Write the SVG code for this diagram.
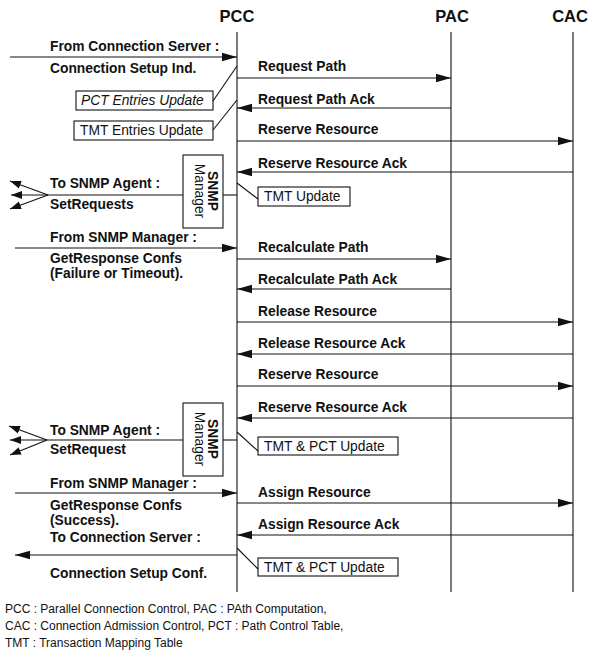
<svg xmlns="http://www.w3.org/2000/svg" width="589" height="655" viewBox="0 0 589 655">
<style>
text{font-family:"Liberation Sans",Arial,sans-serif;fill:#111}
.h{font-size:16.5px;font-weight:bold}
.l{font-size:13.8px;font-weight:bold}
.b{font-size:13.8px}
.f{font-size:12px}
.ln{stroke:#111;stroke-width:1.1;fill:none}
.bx{fill:#fff;stroke:#111;stroke-width:1.1}
.m{stroke:#111;stroke-width:1.1;fill:none;marker-end:url(#ah)}
.s{stroke:#111;stroke-width:1.1;fill:none;marker-end:url(#sa)}
</style>
<defs>
<marker id="ah" markerUnits="userSpaceOnUse" markerWidth="16" markerHeight="10" viewBox="0 0 16 10" refX="15" refY="5" orient="auto"><path d="M0,0.8 L15,5 L0,9.2 z" fill="#111"/></marker>
<marker id="sa" markerUnits="userSpaceOnUse" markerWidth="12" markerHeight="9" viewBox="0 0 12 9" refX="11" refY="4.5" orient="auto"><path d="M0,0.5 L11,4.5 L0,8.5 z" fill="#111"/></marker>
</defs>

<g id="PCC"><text class="h" x="237" y="22" text-anchor="middle">PCC</text><line class="ln" x1="237" y1="32" x2="237" y2="592"/></g>
<g id="PAC"><text class="h" x="452" y="22" text-anchor="middle">PAC</text><line class="ln" x1="451" y1="32" x2="451" y2="592"/></g>
<g id="CAC"><text class="h" x="570" y="22" text-anchor="middle">CAC</text><line class="ln" x1="573" y1="32" x2="573" y2="592"/></g>

<g id="pct-entries"><rect class="bx" x="76" y="91" width="137" height="19"/><text class="b" x="81" y="105" font-style="italic">PCT Entries Update</text></g>
<g id="tmt-entries"><rect class="bx" x="74" y="121" width="139" height="19"/><text class="b" x="80" y="135">TMT Entries Update</text></g>
<g id="snmp-mgr-1"><rect class="bx" x="183" y="155" width="40" height="73"/><text class="l" transform="translate(208,191) rotate(90)" text-anchor="middle">SNMP</text><text class="b" transform="translate(195,191) rotate(90)" text-anchor="middle">Manager</text></g>
<g id="tmt-update"><rect class="bx" x="258" y="187" width="92" height="19"/><text class="b" x="264" y="201">TMT Update</text></g>
<g id="snmp-mgr-2"><rect class="bx" x="183" y="403" width="40" height="73"/><text class="l" transform="translate(208,439) rotate(90)" text-anchor="middle">SNMP</text><text class="b" transform="translate(195,439) rotate(90)" text-anchor="middle">Manager</text></g>
<g id="tmt-pct-update-1"><rect class="bx" x="258" y="437" width="140" height="18"/><text class="b" x="264" y="451">TMT &amp; PCT Update</text></g>
<g id="tmt-pct-update-2"><rect class="bx" x="258" y="558" width="140" height="18"/><text class="b" x="264" y="572">TMT &amp; PCT Update</text></g>

<g id="connectors">
<line class="m" x1="10" y1="57" x2="237" y2="57"/>
<line class="m" x1="237" y1="78" x2="451" y2="78"/>
<line class="m" x1="451" y1="108" x2="237" y2="108"/>
<line class="m" x1="237" y1="141" x2="573" y2="141"/>
<line class="m" x1="573" y1="172" x2="237" y2="172"/>
<line class="ln" x1="213" y1="101" x2="237" y2="66"/>
<line class="ln" x1="213" y1="130" x2="237" y2="100"/>
<line class="ln" x1="48" y1="195" x2="183" y2="195"/>
<line class="ln" x1="223" y1="195" x2="237" y2="195"/>
<line class="s" x1="48" y1="195" x2="10" y2="181"/>
<line class="s" x1="48" y1="195" x2="11" y2="195"/>
<line class="s" x1="48" y1="195" x2="10" y2="209"/>
<line class="ln" x1="237" y1="183" x2="258" y2="199"/>
<line class="m" x1="15" y1="248" x2="237" y2="248"/>
<line class="m" x1="237" y1="259" x2="451" y2="259"/>
<line class="m" x1="451" y1="289" x2="237" y2="289"/>
<line class="m" x1="237" y1="322" x2="573" y2="322"/>
<line class="m" x1="573" y1="354" x2="237" y2="354"/>
<line class="m" x1="237" y1="386" x2="573" y2="386"/>
<line class="m" x1="573" y1="418" x2="237" y2="418"/>
<line class="ln" x1="47" y1="440" x2="183" y2="440"/>
<line class="ln" x1="223" y1="440" x2="237" y2="440"/>
<line class="s" x1="47" y1="440" x2="9" y2="426"/>
<line class="s" x1="47" y1="440" x2="10" y2="440"/>
<line class="s" x1="47" y1="440" x2="10" y2="455"/>
<line class="ln" x1="237" y1="432" x2="258" y2="451"/>
<line class="m" x1="15" y1="493" x2="237" y2="493"/>
<line class="m" x1="237" y1="503" x2="573" y2="503"/>
<line class="m" x1="573" y1="535" x2="237" y2="535"/>
<line class="m" x1="237" y1="555" x2="15" y2="555"/>
<line class="ln" x1="237" y1="548" x2="258" y2="569"/>
</g>

<g id="labels">
<text class="l" x="50" y="51">From Connection Server :</text>
<text class="l" x="50" y="73">Connection Setup Ind.</text>
<text class="l" x="258" y="71">Request Path</text>
<text class="l" x="258" y="104">Request Path Ack</text>
<text class="l" x="258" y="134">Reserve Resource</text>
<text class="l" x="258" y="168">Reserve Resource Ack</text>
<text class="l" x="50" y="188">To SNMP Agent :</text>
<text class="l" x="50" y="209">SetRequests</text>
<text class="l" x="50" y="242">From SNMP Manager :</text>
<text class="l" x="50" y="263">GetResponse Confs</text>
<text class="l" x="50" y="278">(Failure or Timeout).</text>
<text class="l" x="258" y="252">Recalculate Path</text>
<text class="l" x="258" y="284">Recalculate Path Ack</text>
<text class="l" x="258" y="316">Release Resource</text>
<text class="l" x="258" y="348">Release Resource Ack</text>
<text class="l" x="258" y="379">Reserve Resource</text>
<text class="l" x="258" y="412">Reserve Resource Ack</text>
<text class="l" x="50" y="435">To SNMP Agent :</text>
<text class="l" x="50" y="454">SetRequest</text>
<text class="l" x="50" y="488">From SNMP Manager :</text>
<text class="l" x="50" y="510">GetResponse Confs</text>
<text class="l" x="50" y="525">(Success).</text>
<text class="l" x="258" y="497">Assign Resource</text>
<text class="l" x="258" y="529">Assign Resource Ack</text>
<text class="l" x="50" y="542">To Connection Server :</text>
<text class="l" x="50" y="578">Connection Setup Conf.</text>
<text class="f" x="5" y="613">PCC : Parallel Connection Control, PAC : PAth Computation,</text>
<text class="f" x="5" y="630">CAC : Connection Admission Control, PCT : Path Control Table,</text>
<text class="f" x="5" y="647">TMT : Transaction Mapping Table</text>
</g>
</svg>
